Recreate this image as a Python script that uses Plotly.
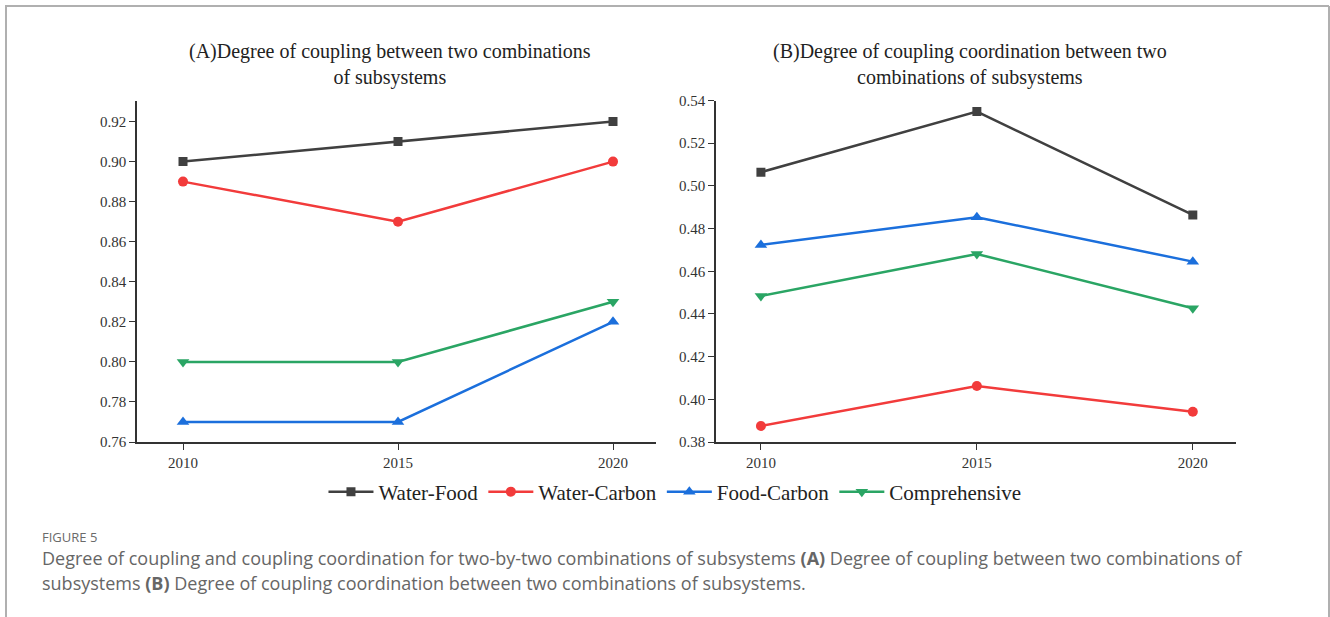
import plotly.graph_objects as go

years = [2010, 2015, 2020]
series_names = ["Water-Food", "Water-Carbon", "Food-Carbon", "Comprehensive"]

# Panel A: degree of coupling
coupling_water_food = [0.90, 0.91, 0.92]
coupling_water_carbon = [0.89, 0.87, 0.90]
coupling_food_carbon = [0.77, 0.77, 0.82]
coupling_comprehensive = [0.80, 0.80, 0.83]

# Panel B: degree of coupling coordination
coord_water_food = [0.5064, 0.5348, 0.4864]
coord_water_carbon = [0.3875, 0.4062, 0.3942]
coord_food_carbon = [0.4723, 0.4853, 0.4645]
coord_comprehensive = [0.4484, 0.4681, 0.4427]

colors = ["#404040", "#f23b3b", "#1b6fdc", "#2aa564"]
symbols = ["square", "circle", "triangle-up", "triangle-down"]
msizes = [9, 10, 11, 11]

panel_a = [coupling_water_food, coupling_water_carbon, coupling_food_carbon, coupling_comprehensive]
panel_b = [coord_water_food, coord_water_carbon, coord_food_carbon, coord_comprehensive]

W, H = 1330, 617
def px(x):
    return x / W
def py(y):
    return 1 - y / H

fig = go.Figure()
for i, name in enumerate(series_names):
    fig.add_trace(go.Scatter(
        x=years, y=panel_a[i], name=name, mode="lines+markers",
        line=dict(color=colors[i], width=2.5),
        marker=dict(symbol=symbols[i], size=msizes[i], color=colors[i]),
        xaxis="x", yaxis="y", legendgroup=name, showlegend=True))
for i, name in enumerate(series_names):
    fig.add_trace(go.Scatter(
        x=years, y=panel_b[i], name=name, mode="lines+markers",
        line=dict(color=colors[i], width=2.5),
        marker=dict(symbol=symbols[i], size=msizes[i], color=colors[i]),
        xaxis="x2", yaxis="y2", legendgroup=name, showlegend=False))

axis_common = dict(
    showline=True, linecolor="#333333", linewidth=1.5,
    ticks="outside", ticklen=6, tickwidth=1.2, tickcolor="#333333",
    showgrid=False, zeroline=False, automargin=False,
    tickfont=dict(family="Liberation Serif", size=15, color="#333333"),
)

ydom = [py(442), py(100.5)]
fig.update_layout(
    width=W, height=H,
    margin=dict(l=0, r=0, t=0, b=0, pad=0, autoexpand=False),
    paper_bgcolor="white", plot_bgcolor="white",
    xaxis=dict(domain=[px(137), px(656)], range=[2008.93, 2021.0],
               tickvals=years, ticktext=[str(y) for y in years], anchor="y", **axis_common),
    yaxis=dict(domain=ydom, range=[0.76, 0.9305], tickvals=[0.76, 0.78, 0.80, 0.82, 0.84, 0.86, 0.88, 0.90, 0.92],
               tickformat=".2f", anchor="x", **axis_common),
    xaxis2=dict(domain=[px(716), px(1236)], range=[2008.96, 2021.0],
                tickvals=years, ticktext=[str(y) for y in years], anchor="y2", **axis_common),
    yaxis2=dict(domain=ydom, range=[0.38, 0.5400], tickvals=[0.38, 0.40, 0.42, 0.44, 0.46, 0.48, 0.50, 0.52, 0.54],
                tickformat=".2f", anchor="x2", **axis_common),
    legend=dict(orientation="h", x=0.5075, xanchor="center", y=py(492), yanchor="middle",
                font=dict(family="Liberation Serif", size=21, color="#222222"),
                itemwidth=45, tracegroupgap=0, bgcolor="rgba(0,0,0,0)"),
    showlegend=True,
)

annotations = [
    dict(text="(A)Degree of coupling between two combinations<br>of subsystems",
         x=px(390), y=py(65), xref="paper", yref="paper", xanchor="center", yanchor="middle",
         showarrow=False, align="center",
         font=dict(family="Liberation Serif", size=20, color="#222222")),
    dict(text="(B)Degree of coupling coordination between two<br>combinations of subsystems",
         x=px(970), y=py(65), xref="paper", yref="paper", xanchor="center", yanchor="middle",
         showarrow=False, align="center",
         font=dict(family="Liberation Serif", size=20, color="#222222")),
    dict(text="FIGURE 5", x=px(40), y=py(537), xref="paper", yref="paper",
         xanchor="left", yanchor="middle", showarrow=False,
         font=dict(family="Open Sans", size=13, color="#6a6a6a")),
    dict(text="Degree of coupling and coupling coordination for two-by-two combinations of subsystems <b>(A)</b> Degree of coupling between two combinations of",
         x=px(40), y=py(558), xref="paper", yref="paper",
         xanchor="left", yanchor="middle", showarrow=False,
         font=dict(family="Open Sans", size=18, color="#666666")),
    dict(text="subsystems <b>(B)</b> Degree of coupling coordination between two combinations of subsystems.",
         x=px(40), y=py(583), xref="paper", yref="paper",
         xanchor="left", yanchor="middle", showarrow=False,
         font=dict(family="Open Sans", size=18, color="#666666")),
]
fig.update_layout(annotations=annotations)

frame = dict(color="#b0b0b0", width=2)
fig.update_layout(shapes=[
    dict(type="line", xref="paper", yref="paper", x0=px(5), x1=px(1329), y0=py(6), y1=py(6), line=frame),
    dict(type="line", xref="paper", yref="paper", x0=px(6), x1=px(6), y0=py(6), y1=0, line=frame),
    dict(type="line", xref="paper", yref="paper", x0=px(1329), x1=px(1329), y0=py(6), y1=0, line=frame),
])

fig.write_html("out.html", config={"displayModeBar": False},
               post_script="document.documentElement.style.margin='0';document.body.style.margin='0';document.body.style.overflow='hidden';")
